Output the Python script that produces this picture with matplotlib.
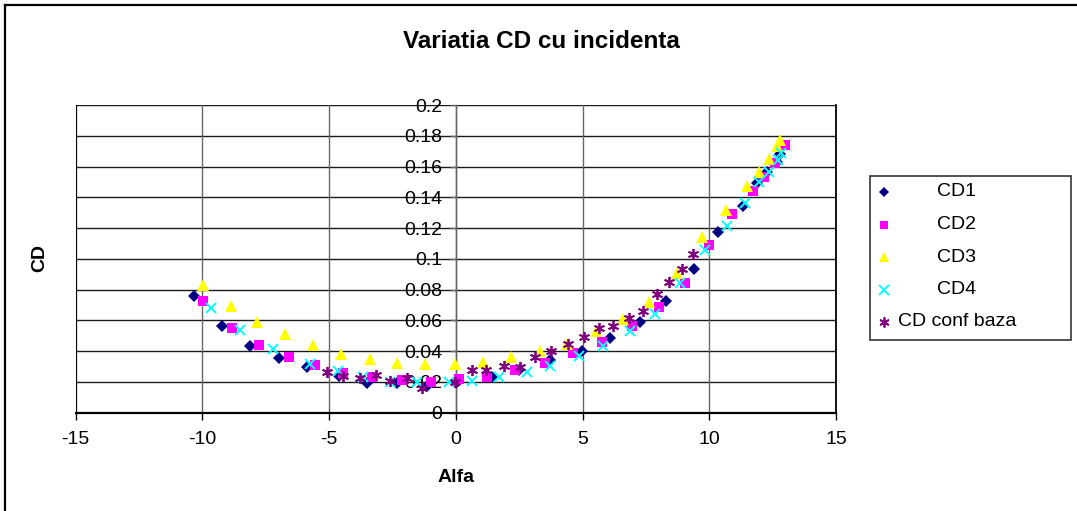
import matplotlib
matplotlib.use("Agg")
import matplotlib.pyplot as plt
from matplotlib.lines import Line2D
from matplotlib.patches import Rectangle

plt.rcParams['font.family'] = ['Liberation Sans', 'DejaVu Sans']

# ---- data ----
cd1_alpha = [-10.35, -9.24, -8.14, -6.98, -5.89, -4.61, -3.50, -2.31, -1.13, 0.05, 1.43, 2.51,
             3.70, 4.97, 6.08, 7.26, 8.29, 9.39, 10.33, 11.32, 11.90, 12.29, 12.66, 12.79]
cd1_vals = [0.0759, 0.0566, 0.0434, 0.0356, 0.0295, 0.0239, 0.0195, 0.0190, 0.0176, 0.0202, 0.0234, 0.0278,
            0.0340, 0.0401, 0.0484, 0.0588, 0.0728, 0.0932, 0.1173, 0.1346, 0.1490, 0.1567, 0.1632, 0.1680]

cd2_alpha = [-9.97, -8.85, -7.75, -6.59, -5.56, -4.44, -3.30, -2.12, -1.00, 0.11, 1.23, 2.34,
             3.52, 4.64, 5.76, 6.94, 8.02, 9.06, 10.00, 10.88, 11.71, 12.16, 12.59, 12.99]
cd2_vals = [0.0726, 0.0553, 0.0440, 0.0360, 0.0308, 0.0256, 0.0230, 0.0213, 0.0202, 0.0217, 0.0234, 0.0278,
            0.0325, 0.0386, 0.0462, 0.0564, 0.0685, 0.0845, 0.1090, 0.1290, 0.1443, 0.1534, 0.1620, 0.1740]

cd3_alpha = [-9.98, -8.88, -7.84, -6.74, -5.62, -4.52, -3.40, -2.31, -1.23, -0.05, 1.06, 2.17,
             3.33, 4.40, 5.53, 6.58, 7.63, 8.73, 9.70, 10.65, 11.48, 11.97, 12.37, 12.68, 12.79]
cd3_vals = [0.0830, 0.0696, 0.0588, 0.0512, 0.0442, 0.0382, 0.0350, 0.0321, 0.0315, 0.0315, 0.0332, 0.0364,
            0.0401, 0.0445, 0.0531, 0.0607, 0.0722, 0.0906, 0.1144, 0.1318, 0.1474, 0.1567, 0.1648, 0.1734, 0.1770]

cd4_alpha = [-9.68, -8.52, -7.22, -5.76, -4.65, -3.68, -2.61, -1.53, -0.28, 0.64, 1.69, 2.80,
             3.70, 4.87, 5.82, 6.87, 7.85, 8.84, 9.82, 10.71, 11.41, 11.97, 12.37, 12.72, 12.82]
cd4_vals = [0.0679, 0.0538, 0.0414, 0.0317, 0.0271, 0.0230, 0.0202, 0.0202, 0.0202, 0.0206, 0.0234, 0.0267,
            0.0305, 0.0369, 0.0434, 0.0531, 0.0642, 0.0841, 0.1055, 0.1214, 0.1365, 0.1500, 0.1567, 0.1643, 0.1686]

base_alpha = [-5.10, -4.46, -3.79, -3.17, -2.58, -1.92, -1.33, -0.02, 0.64, 1.20, 1.91, 2.54,
              3.13, 3.76, 4.44, 5.04, 5.66, 6.21, 6.83, 7.39, 7.92, 8.42, 8.91, 9.34]
base_vals = [0.0263, 0.0240, 0.0226, 0.0245, 0.0206, 0.0224, 0.0159, 0.0202, 0.0278, 0.0278, 0.0306, 0.0299,
             0.0364, 0.0400, 0.0447, 0.0494, 0.0553, 0.0564, 0.0618, 0.0663, 0.0770, 0.0848, 0.0932, 0.1032]

series_names = ['CD1', 'CD2', 'CD3', 'CD4', 'CD conf baza']
x_ticks = [-15, -10, -5, 0, 5, 10, 15]
y_ticks = [0, 0.02, 0.04, 0.06, 0.08, 0.1, 0.12, 0.14, 0.16, 0.18, 0.2]
y_tick_labels = ['0', '0.02', '0.04', '0.06', '0.08', '0.1', '0.12', '0.14', '0.16', '0.18', '0.2']

# ---- figure ----
W, H = 1077, 511
fig = plt.figure(figsize=(W / 100, H / 100), dpi=100)

def fx(px):
    return px / W

def fy(py):
    return 1 - py / H

ax_l, ax_r, ax_t, ax_b = 75.7, 836.0, 105.0, 412.7
ax = fig.add_axes([fx(ax_l), fy(ax_b), fx(ax_r - ax_l), (ax_b - ax_t) / H])

styles = [
    dict(marker='D', color='#000080', ms=6.0, mew=0),
    dict(marker='s', color='#FF00FF', ms=6.5, mew=0),
    dict(marker='^', color='#FFFF00', ms=8.0, mew=0),
    dict(marker='x', color='#00FFFF', ms=7.5, mew=1.4),
    dict(marker=(6, 2, 0), color='#800080', ms=8.0, mew=1.3),
]
data = [(cd1_alpha, cd1_vals), (cd2_alpha, cd2_vals), (cd3_alpha, cd3_vals),
        (cd4_alpha, cd4_vals), (base_alpha, base_vals)]

for (xa, ya), st in zip(data, styles):
    ax.plot(xa, ya, linestyle='none', marker=st['marker'], color=st['color'],
            markersize=st['ms'], markeredgewidth=st['mew'], zorder=3)

ax.set_xlim(-15, 15)
ax.set_ylim(0, 0.2)
ax.set_xticks(x_ticks)
ax.set_xticklabels([str(v) for v in x_ticks])
ax.set_yticks(y_ticks)
ax.set_yticklabels(y_tick_labels)

# gridlines
for yv in y_ticks[1:]:
    ax.axhline(yv, color='#1a1a1a', lw=1.0, zorder=1)
for xv in x_ticks[1:-1]:
    ax.axvline(xv, color='#666666', lw=1.0, zorder=1)

# spines
ax.spines['left'].set_position(('data', 0))
ax.spines['left'].set_color('#666666')
ax.spines['left'].set_linewidth(1.0)
ax.spines['top'].set_visible(False)
ax.spines['bottom'].set_color('black')
ax.spines['bottom'].set_linewidth(1.6)
ax.spines['right'].set_color('black')
ax.spines['right'].set_linewidth(1.3)
ax.axvline(-15, color='black', lw=1.6, zorder=2)

ax.tick_params(axis='x', direction='out', length=5, width=1, pad=8, labelsize=14, colors='black')
ax.tick_params(axis='y', direction='out', length=4, width=1, pad=6, labelsize=14, colors='black')
ax.tick_params(axis='y', color='#666666')

# titles
fig.text(fx(541), fy(42), 'Variatia CD cu incidenta', ha='center', va='center',
         fontsize=17.5, fontweight='bold')
fig.text(fx(456), fy(478), 'Alfa', ha='center', va='center', fontsize=14, fontweight='bold')
fig.text(fx(40), fy(258), 'CD', ha='center', va='center', fontsize=14, fontweight='bold', rotation=90)

# legend (manual)
lg_l, lg_t, lg_r, lg_b = 870, 176, 1071, 340
fig.add_artist(Rectangle((fx(lg_l), fy(lg_b)), fx(lg_r - lg_l), (lg_b - lg_t) / H,
                         transform=fig.transFigure, facecolor='white', edgecolor='#333333', lw=1.2))
entry_y = [191.7, 224.7, 257.0, 290.0, 322.0]
for name, st, ey in zip(series_names, styles, entry_y):
    fig.add_artist(Line2D([fx(884)], [fy(ey)], transform=fig.transFigure, linestyle='none',
                          marker=st['marker'], color=st['color'], markersize=st['ms'] * 0.9,
                          markeredgewidth=st['mew']))
    fig.text(fx(957), fy(ey), name, ha='center', va='center', fontsize=14)

# outer chart border (top and left visible)
fig.add_artist(Line2D([fx(5), fx(5)], [fy(5), 0], transform=fig.transFigure, color='black', lw=1.6))
fig.add_artist(Line2D([fx(5), 1], [fy(5), fy(5)], transform=fig.transFigure, color='black', lw=1.6))

fig.savefig('out.png', dpi=100, facecolor='white')
